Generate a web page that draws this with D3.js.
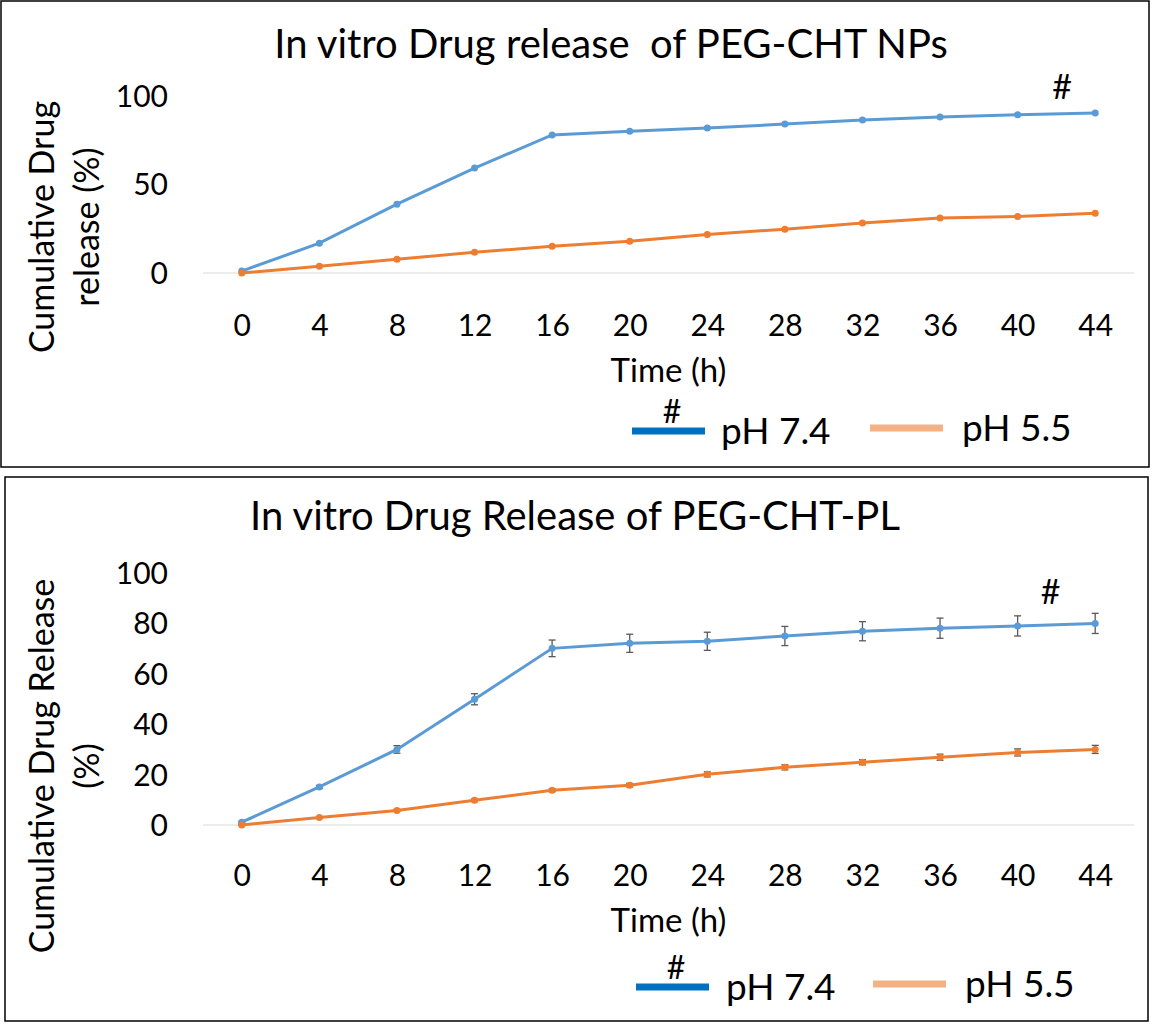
<!DOCTYPE html>
<html>
<head>
<meta charset="utf-8">
<script src="https://cdn.jsdelivr.net/npm/d3@7"></script>
<style>
  body { margin: 0; background: #fff; }
  svg text { font-family: Lato, "Open Sans", sans-serif; fill: #000; white-space: pre; }
</style>
</head>
<body>
<svg id="chart"></svg>
<script>
// time points (h)
const hours = [0, 4, 8, 12, 16, 20, 24, 28, 32, 36, 40, 44];

// PEG-CHT NPs
const npsPH74 = [1.1, 16.8, 38.8, 59.1, 77.8, 79.8, 81.7, 83.9, 86.2, 87.9, 89.1, 90.2];
const npsPH55 = [0, 3.8, 7.7, 11.7, 15.1, 17.9, 21.7, 24.7, 28.2, 31.0, 31.9, 33.7];

// PEG-CHT-PL
const plPH74 = [1.1, 15.1, 30.0, 49.9, 70.1, 72.1, 72.9, 75.0, 76.9, 78.1, 79.0, 80.0];
const plPH74Err = [0.3, 0.6, 1.5, 2.2, 3.3, 3.6, 3.6, 3.8, 3.8, 4.0, 4.0, 4.0];
const plPH55 = [0, 3.0, 5.8, 9.8, 13.8, 15.8, 20.1, 22.9, 24.9, 26.9, 28.8, 30.0];
const plPH55Err = [0.2, 0.3, 0.4, 0.5, 0.6, 0.7, 1.0, 1.0, 1.0, 1.2, 1.4, 1.6];

const seriesNames = ["pH 7.4", "pH 5.5"];
const lineColors = ["#5B9BD5", "#ED7D31"];
const legendColors = ["#0070C0", "#F4B183"];

const width = 1152, height = 1028;
const svg = d3.select("#chart").attr("width", width).attr("height", height);

function drawPanel(p) {
  const g = svg.append("g");

  g.append("rect")
    .attr("x", p.box[0]).attr("y", p.box[1])
    .attr("width", p.box[2]).attr("height", p.box[3])
    .attr("fill", "none").attr("stroke", "#000").attr("stroke-width", 1.5);

  const x = d3.scaleLinear().domain([-2, 46]).range([203, 1134]);
  const y = d3.scaleLinear().domain([0, 100]).range(p.yRange);

  g.append("text")
    .attr("x", p.titleX).attr("y", p.titleY)
    .attr("text-anchor", "middle")
    .style("font-size", "40px")
    .text(p.title);

  // baseline (Excel horizontal axis line)
  g.append("line")
    .attr("x1", x.range()[0]).attr("x2", x.range()[1])
    .attr("y1", y(0)).attr("y2", y(0))
    .attr("stroke", "#d9d9d9").attr("stroke-width", 1.2);

  const yAxis = g.append("g")
    .attr("transform", "translate(168,0)")
    .call(d3.axisLeft(y).tickValues(p.yTicks).tickSize(0).tickPadding(0));
  yAxis.select(".domain").remove();
  yAxis.selectAll("text").style("font-size", "30px").style("font-family", "Lato").attr("dy", "0.35em");

  const xAxis = g.append("g")
    .attr("transform", `translate(0,${p.xLabelY})`)
    .call(d3.axisBottom(x).tickValues(hours).tickSize(0).tickPadding(0));
  xAxis.select(".domain").remove();
  xAxis.selectAll("text").style("font-size", "30px").style("font-family", "Lato").attr("dy", "0.35em");

  g.append("text")
    .attr("x", (x.range()[0] + x.range()[1]) / 2).attr("y", p.xTitleY)
    .attr("text-anchor", "middle").attr("dy", "0.35em")
    .style("font-size", "33px")
    .text("Time (h)");

  p.yTitle.forEach((t, i) => {
    g.append("text")
      .attr("transform", `translate(${42 + i * 45},${p.yTitleC}) rotate(-90)`)
      .attr("text-anchor", "middle").attr("dy", "0.35em")
      .style("font-size", "34px")
      .text(t);
  });

  p.series.forEach((s, i) => {
    const pts = hours.map((h, j) => ({ h, v: s.values[j], e: s.err ? s.err[j] : 0 }));
    const line = d3.line().x(d => x(d.h)).y(d => y(d.v));

    if (s.err) {
      const eb = g.append("g").attr("stroke", "#595959").attr("stroke-width", 1.3);
      pts.forEach(d => {
        eb.append("line").attr("x1", x(d.h)).attr("x2", x(d.h))
          .attr("y1", y(d.v - d.e)).attr("y2", y(d.v + d.e));
        [d.v - d.e, d.v + d.e].forEach(v => {
          eb.append("line").attr("x1", x(d.h) - 3.5).attr("x2", x(d.h) + 3.5)
            .attr("y1", y(v)).attr("y2", y(v));
        });
      });
    }

    g.append("path").datum(pts)
      .attr("d", line)
      .attr("fill", "none")
      .attr("stroke", lineColors[i])
      .attr("stroke-width", 3);

    g.selectAll(null).data(pts).enter().append("circle")
      .attr("cx", d => x(d.h)).attr("cy", d => y(d.v))
      .attr("r", 3.5)
      .attr("fill", lineColors[i]);
  });

  // significance mark
  g.append("text")
    .attr("x", x(p.hashAt[0])).attr("y", y(p.hashAt[1]))
    .attr("text-anchor", "middle").attr("dy", "0.35em")
    .style("font-size", "34px")
    .text("#");

  // legend
  p.legend.forEach((L, i) => {
    g.append("line")
      .attr("x1", L.x1).attr("x2", L.x1 + 73)
      .attr("y1", L.y).attr("y2", L.y)
      .attr("stroke", legendColors[i]).attr("stroke-width", 7);
    g.append("text")
      .attr("x", L.tx).attr("y", L.y).attr("dy", "0.35em")
      .style("font-size", "37px")
      .text(seriesNames[i]);
  });
  g.append("text")
    .attr("x", p.legend[0].x1 + 40).attr("y", p.legend[0].y - 19)
    .attr("text-anchor", "middle").attr("dy", "0.35em")
    .style("font-size", "32px")
    .text("#");
}

drawPanel({
  box: [1, 1, 1148, 466],
  title: "In vitro Drug release  of PEG-CHT NPs",
  titleX: 611, titleY: 58,
  yRange: [273, 95.5],
  yTicks: [0, 50, 100],
  xLabelY: 325,
  xTitleY: 370,
  yTitle: ["Cumulative Drug", "release (%)"],
  yTitleC: 227,
  hashAt: [42.3, 105],
  series: [
    { values: npsPH74 },
    { values: npsPH55 }
  ],
  legend: [
    { x1: 632, y: 431, tx: 721 },
    { x1: 870, y: 428, tx: 962 }
  ]
});

drawPanel({
  box: [5, 477, 1143, 544],
  title: "In vitro Drug Release of PEG-CHT-PL",
  titleX: 575, titleY: 530,
  yRange: [825, 573],
  yTicks: [0, 20, 40, 60, 80, 100],
  xLabelY: 875,
  xTitleY: 920,
  yTitle: ["Cumulative Drug Release", "(%)"],
  yTitleC: 766,
  hashAt: [41.7, 92.5],
  series: [
    { values: plPH74, err: plPH74Err },
    { values: plPH55, err: plPH55Err }
  ],
  legend: [
    { x1: 636, y: 987, tx: 726 },
    { x1: 873, y: 984, tx: 965 }
  ]
});
</script>
</body>
</html>
